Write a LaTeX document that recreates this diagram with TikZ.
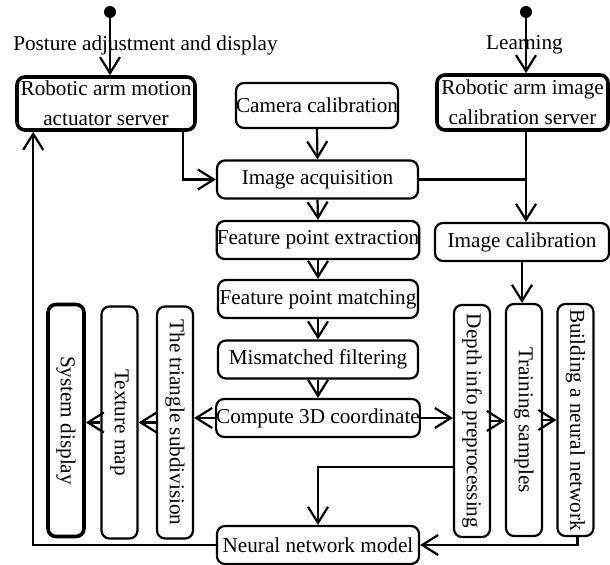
\documentclass[tikz,border=0pt]{standalone}
\usepackage{fontspec}
\setmainfont{Liberation Serif}
\usetikzlibrary{arrows.meta}

\begin{document}
\begin{tikzpicture}[x=0.5pt, y=-0.5pt,
        font=\fontsize{10.6}{15}\selectfont,
        >={Straight Barb[length=8pt,width=10pt]},
        box/.style={draw, line width=1.1pt, rounded corners=4pt, inner sep=0pt, align=center, minimum height=19pt},
        srvbox/.style={box, line width=1.8pt},
        vbox/.style={box, rotate=-90, minimum width=116pt, minimum height=18pt},
        dot/.style={circle, fill, inner sep=0pt, minimum size=6pt},
        flow/.style={line width=1.1pt, ->}]
    \useasboundingbox (0,0) rectangle (610,565);
    % top entries
    \node[dot] (posdot) at (110,12) {};
    \node[dot] (lrndot) at (526,12) {};
    \node (poslbl) at (145.5,45) {Posture adjustment and display};
    \node (lrnlbl) at (524.5,45) {Learning};
    \node[srvbox, minimum width=89pt, minimum height=26.5pt] (armsrv) at (106,103.5) {Robotic arm motion\\actuator server};
    \node[srvbox, minimum width=85.5pt, minimum height=27.5pt] (imgsrv) at (522.5,102.5) {Robotic arm image\\calibration server};
    % middle column
    \node[box, minimum width=81pt, minimum height=22.5pt] (camcal) at (317,105.5) {Camera calibration};
    \node[box, minimum width=100.5pt] (acq) at (317.5,179.5) {Image acquisition};
    \node[box, minimum width=100pt] (extr) at (318,240) {Feature point extraction};
    \node[box, minimum width=100pt] (match) at (318,299) {Feature point matching};
    \node[box, minimum width=100pt] (filt) at (318,359.5) {Mismatched filtering};
    \node[box, minimum width=101pt] (comp) at (318,418) {Compute 3D coordinate};
    \node[box, minimum width=101pt] (nnm) at (318,545) {Neural network model};
    \node[box, minimum width=87pt] (imgcal) at (522,242) {Image calibration};
    % vertical boxes
    \node[vbox, line width=1.8pt] (sysd) at (66,420.5) {System display};
    \node[vbox] (tex) at (119.5,422.5) {Texture map};
    \node[vbox] (tri) at (175,422.5) {The triangle subdivision};
    \node[vbox] (depth) at (472,421) {Depth info preprocessing};
    \node[vbox] (train) at (524,420) {Training samples};
    \node[vbox] (build) at (575.5,420) {Building a neural network};

    \draw[flow] (posdot) -- (posdot |- armsrv.north);
    \draw[flow] (lrndot) -- (lrndot |- imgsrv.north);
    \draw[flow] ([xshift=-7pt]armsrv.south east) |- (acq.west);
    \draw[flow] (camcal.south) -- (acq.north);
    \draw[line width=1.1pt] (acq.east) -- (acq.east -| lrndot);
    \draw[flow] (lrndot |- imgsrv.south) -- (lrndot |- imgcal.north);
    \draw[flow] (acq.south) -- (extr.north);
    \draw[flow] (extr.south) -- (match.north);
    \draw[flow] (match.south) -- (filt.north);
    \draw[flow] (filt.south) -- (comp.north);
    \draw[flow] (comp.west) -- (comp.west -| tri.north);
    \draw[flow] (tri.south) -- (tri.south -| tex.north);
    \draw[flow] (tex.south) -- (tex.south -| sysd.north);
    \draw[flow] (comp.east) -- (comp.east -| depth.south);
    \draw[flow] (depth.north) -- (depth.north -| train.south);
    \draw[flow] (train.north) -- (train.north -| build.south);
    \draw[flow] (imgcal.south) -- (imgcal.south |- train.west);
    \draw[flow] ([yshift=-23pt]depth.south) -| (nnm.north);
    \draw[flow] ([xshift=1pt]build.east) |- (nnm.east);
    \draw[flow] (nnm.west) -| ([xshift=9pt]armsrv.south west);
\end{tikzpicture}
\end{document}
